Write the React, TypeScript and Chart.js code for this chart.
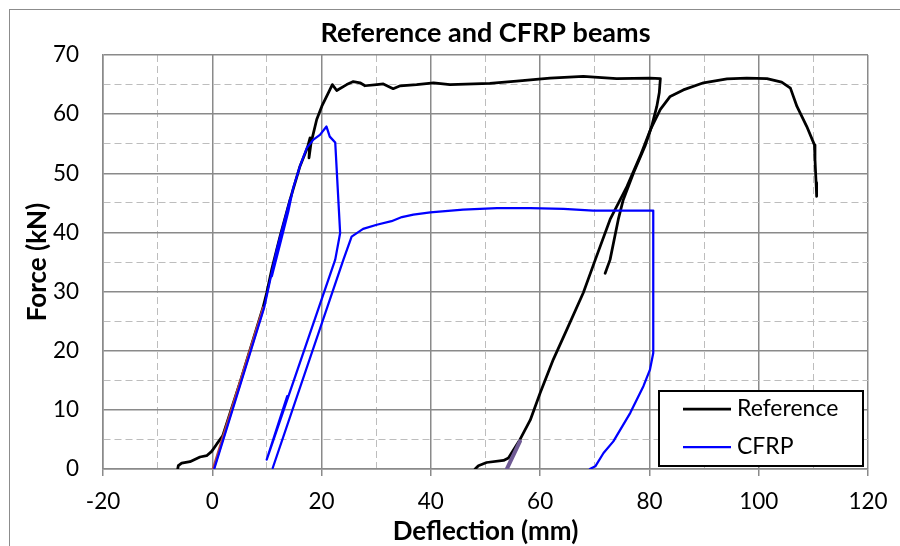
import { useEffect, useRef } from 'react';
import { Chart, registerables } from 'chart.js';

Chart.register(...registerables);

const FONT = 'Lato, Carlito, Calibri, "DejaVu Sans", sans-serif';

// Reference beam, first test (load, plateau, unload)
const refAX = [-6.33, -6.22, -5.6, -4.08, -2.25, -1.03, -0.11, 0.8, 1.9, 5.2, 9.34, 9.96, 10.87, 12.39, 14.22, 16.05, 17.4, 17.89, 17.7, 18.07, 19.11, 20.03, 21.24, 21.97, 22.77, 24.6, 25.81, 27.04, 27.95, 30.1, 31.3, 33.1, 34.4, 37.4, 40.5, 43.5, 50.8, 55.7, 61.8, 67.9, 74.0, 80.1, 82.0, 81.8, 81.35, 80.4, 79.2, 77.1, 75.2, 74.3, 72.8, 71.9];
const refAY = [0, 0.56, 1.0, 1.23, 2.03, 2.25, 2.98, 4.2, 5.6, 15.0, 27.5, 29.8, 33.7, 39.3, 45.5, 51.2, 54.3, 56.0, 52.6, 55.1, 59.1, 61.3, 63.6, 65.0, 64.0, 65.0, 65.5, 65.3, 64.8, 65.0, 65.1, 64.3, 64.8, 65.0, 65.3, 65.0, 65.2, 65.6, 66.1, 66.4, 66.0, 66.1, 66.0, 63.6, 61.3, 57.9, 54.6, 50.1, 45.5, 42.2, 35.4, 33.1];

// Reference beam, second test
const refBX = [48.1, 48.7, 50.2, 53.3, 54.2, 56.3, 58.2, 60.0, 62.4, 64.9, 67.9, 70.1, 72.8, 75.9, 78.3, 80.2, 82.0, 83.8, 86.2, 89.9, 94.2, 97.8, 101.5, 104.2, 105.8, 107.0, 108.8, 110.2, 110.3, 110.5, 110.6];
const refBY = [0, 0.56, 1.1, 1.45, 1.86, 4.96, 8.3, 12.85, 18.5, 23.6, 29.8, 35.4, 42.2, 47.8, 52.9, 57.4, 60.8, 63.0, 64.1, 65.3, 65.96, 66.1, 66.0, 65.4, 64.4, 61.3, 57.9, 54.8, 52.3, 48.4, 46.1];

// CFRP beam, first test
const cfrpAX = [0.35, 9.5, 11.8, 14.3, 10.9, 12.4, 13.9, 14.8, 16.05, 17.3, 18.5, 19.7, 20.9, 21.5, 22.5, 23.4, 22.5, 9.96, 13.7];
const cfrpAY = [0, 27.3, 37.1, 45.8, 32.6, 38.0, 43.5, 47.5, 51.2, 54.3, 55.7, 56.5, 57.9, 56.2, 55.2, 39.9, 35.4, 1.57, 12.3];

// CFRP beam, second test
const cfrpBX = [11.06, 24.0, 25.5, 27.6, 30.1, 32.8, 34.7, 36.8, 39.9, 45.9, 52.1, 58.2, 64.3, 69.7, 80.7, 80.7, 80.1, 78.9, 76.5, 73.4, 71.6, 70.1, 69.1];
const cfrpBY = [0.17, 35.4, 39.3, 40.6, 41.3, 41.9, 42.6, 43.0, 43.4, 43.85, 44.1, 44.1, 44.0, 43.7, 43.7, 19.6, 16.8, 14.0, 9.5, 4.67, 2.7, 0.45, 0];

// Linear fit segments
const fitRedX = [0.18, 9.34];
const fitRedY = [0, 27.2];
const fitPurpleX = [53.9, 56.3];
const fitPurpleY = [0, 4.67];

const legendLabels = ['Reference', 'CFRP'];
const legendColors = ['#000000', '#0000ff'];

const pts = (xs: number[], ys: number[]) => xs.map((x, i) => ({ x, y: ys[i] }));

const isMinor = (c: any, step: number) => !!c.tick && Math.abs(c.tick.value % step) > 1e-6;

const legendPlugin = {
  id: 'boxLegend',
  afterDatasetsDraw(chart: any) {
    const { ctx, chartArea } = chart;
    const w = 204;
    const h = 75;
    const x0 = chartArea.right - 5 - w;
    const y0 = chartArea.bottom - 3 - h;
    ctx.save();
    ctx.fillStyle = '#ffffff';
    ctx.fillRect(x0, y0, w, h);
    ctx.lineWidth = 2;
    ctx.strokeStyle = '#000000';
    ctx.strokeRect(x0, y0, w, h);
    legendLabels.forEach((label, i) => {
      const y = y0 + 18 + i * 38;
      ctx.beginPath();
      ctx.moveTo(x0 + 24, y);
      ctx.lineTo(x0 + 72, y);
      ctx.strokeStyle = legendColors[i];
      ctx.lineWidth = i === 0 ? 2.75 : 2.25;
      ctx.stroke();
      ctx.fillStyle = '#000000';
      ctx.font = `23px ${FONT}`;
      ctx.textBaseline = 'middle';
      ctx.textAlign = 'left';
      ctx.fillText(label, x0 + 78, y);
    });
    ctx.restore();
  },
};

const line = (data: any[], color: string, width: number, order: number) => ({
  data,
  showLine: true,
  borderColor: color,
  backgroundColor: color,
  borderWidth: width,
  pointRadius: 0,
  pointHoverRadius: 0,
  fill: false,
  tension: 0,
  order,
  borderCapStyle: 'round',
  borderJoinStyle: 'round',
});

export default function App() {
  const ref = useRef<HTMLCanvasElement>(null);
  useEffect(() => {
    const chart = new Chart(ref.current as HTMLCanvasElement, {
      type: 'scatter',
      data: {
        datasets: [
          { label: 'Reference', ...line(pts(refAX, refAY), '#000000', 2.75, 3) },
          { label: 'Reference 2', ...line(pts(refBX, refBY), '#000000', 2.75, 3) },
          { label: 'CFRP', ...line(pts(cfrpAX, cfrpAY), '#0000ff', 2.25, 1) },
          { label: 'CFRP 2', ...line(pts(cfrpBX, cfrpBY), '#0000ff', 2.25, 1) },
          { label: 'Fit 1', ...line(pts(fitRedX, fitRedY), '#b5483e', 3, 2) },
          { label: 'Fit 2', ...line(pts(fitPurpleX, fitPurpleY), '#6f5a94', 4, 2) },
        ] as any,
      },
      options: {
        animation: false,
        responsive: false,
        layout: { padding: { left: 0, right: 32, top: 0, bottom: 0 } },
        plugins: {
          legend: { display: false },
          tooltip: { enabled: false },
          title: {
            display: true,
            text: 'Reference and CFRP beams',
            color: '#000000',
            fullSize: false,
            font: { family: FONT, size: 27, weight: 'bold' },
            padding: { top: 6.8, bottom: 5.8 },
          },
        },
        scales: {
          x: {
            type: 'linear',
            position: 'bottom',
            min: -20,
            max: 120,
            ticks: {
              stepSize: 10,
              autoSkip: false,
              maxRotation: 0,
              padding: 12,
              color: '#000000',
              font: { family: FONT, size: 22.5 },
              callback: (v: any) => (Number(v) % 20 === 0 ? String(v) : ''),
            },
            grid: {
              color: (c: any) => (isMinor(c, 20) ? '#bdbdbd' : '#8a8a8a'),
              lineWidth: (c: any) => (isMinor(c, 20) ? 1 : 1.5),
              tickColor: (c: any) => (isMinor(c, 20) ? 'rgba(0,0,0,0)' : '#8a8a8a'),
              tickLength: 7,
              drawTicks: true,
            },
            border: { color: '#8a8a8a', width: 1.5, dash: (c: any) => (isMinor(c, 20) ? [7, 4] : []) },
            title: {
              display: true,
              text: 'Deflection (mm)',
              color: '#000000',
              font: { family: FONT, size: 26, weight: 'bold' },
              padding: { top: 0, bottom: 2.4 },
            },
            afterFit: (s: any) => {
              s.height = 81;
            },
          },
          y: {
            type: 'linear',
            min: 0,
            max: 70,
            ticks: {
              stepSize: 5,
              autoSkip: false,
              padding: 24,
              color: '#000000',
              font: { family: FONT, size: 22.5 },
              callback: (v: any) => (Number(v) % 10 === 0 ? String(v) : ''),
            },
            grid: {
              color: (c: any) => (isMinor(c, 10) ? '#bdbdbd' : '#8a8a8a'),
              lineWidth: (c: any) => (isMinor(c, 10) ? 1 : 1.5),
              drawTicks: false,
            },
            border: { color: '#8a8a8a', width: 1.5, dash: (c: any) => (isMinor(c, 10) ? [7, 4] : []) },
            title: {
              display: true,
              text: 'Force (kN)',
              color: '#000000',
              font: { family: FONT, size: 26, weight: 'bold' },
              padding: { top: 12.4, bottom: 0 },
            },
            afterFit: (s: any) => {
              s.width = 93;
            },
          },
        },
      } as any,
      plugins: [legendPlugin],
    });
    return () => chart.destroy();
  }, []);

  return (
    <div style={{ position: 'fixed', inset: 0, overflow: 'hidden', background: '#ffffff' }}>
      <div
        style={{
          position: 'absolute',
          left: 9,
          top: 9,
          width: 900,
          height: 550,
          border: '1px solid #8c8c8c',
        }}
      >
        <canvas ref={ref} width={890} height={540} style={{ display: 'block', width: 890, height: 540 }} />
      </div>
    </div>
  );
}
